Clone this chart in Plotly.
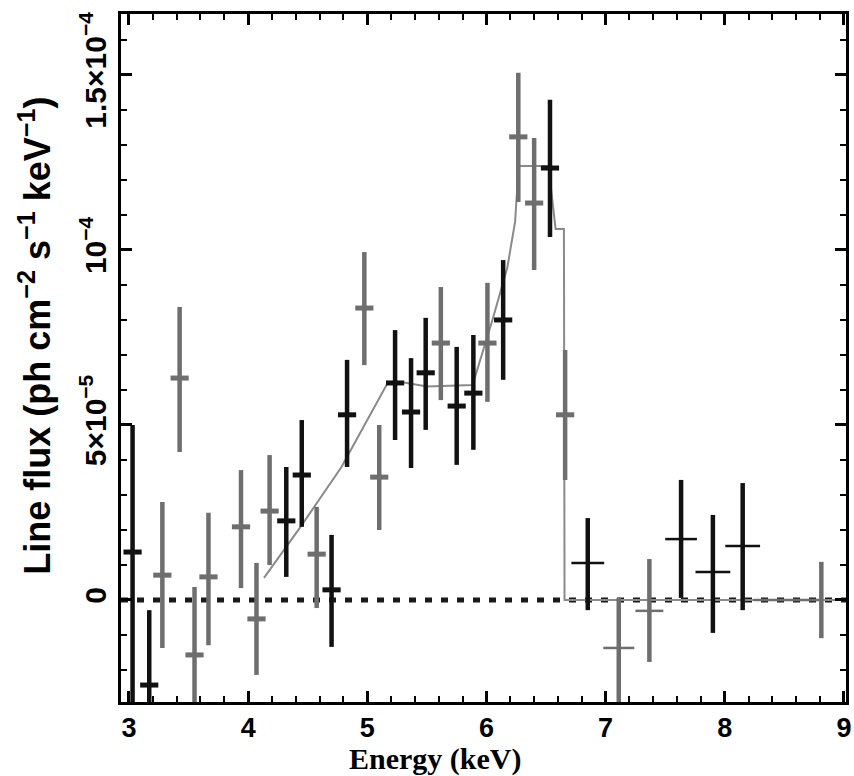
import plotly.graph_objects as go

# ---- data (flux in units of 1e-5 ph cm^-2 s^-1 keV^-1) ----
energy = [3.03, 3.17, 3.28, 3.425, 3.55, 3.667, 3.94, 4.07, 4.18, 4.32, 4.45,
          4.575, 4.70, 4.83, 4.975, 5.10, 5.233, 5.367, 5.49, 5.617, 5.75, 5.89,
          6.008, 6.14, 6.267, 6.40, 6.533, 6.66,
          6.85, 7.11, 7.367, 7.633, 7.90, 8.15, 8.81]
flux_e5 = [1.37, -2.43, 0.71, 6.34, -1.57, 0.66, 2.09, -0.54, 2.54, 2.26, 3.57,
           1.31, 0.29, 5.29, 8.34, 3.51, 6.20, 5.37, 6.49, 7.34, 5.54, 5.91,
           7.34, 8.00, 13.23, 11.34, 12.34, 5.29,
           1.06, -1.37, -0.31, 1.74, 0.80, 1.54, 0.00]
err_up_e5 = [3.63, 2.14, 2.09, 2.03, 1.94, 1.83, 1.62, 1.60, 1.60, 1.54, 1.57,
             1.35, 1.57, 1.57, 1.60, 1.49, 1.51, 1.54, 1.57, 1.60, 1.69, 1.66,
             1.72, 1.71, 1.83, 1.86, 1.95, 1.85,
             1.28, 1.43, 1.48, 1.69, 1.63, 1.80, 1.09]
err_dn_e5 = [6.50, 1.00, 2.08, 2.11, 2.00, 1.95, 1.75, 1.60, 1.54, 1.60, 1.48,
             1.54, 1.63, 1.49, 1.63, 1.51, 1.63, 1.60, 1.63, 1.63, 1.68, 1.62,
             1.68, 1.71, 1.86, 1.91, 1.97, 1.86,
             1.35, 2.00, 1.46, 1.68, 1.74, 1.83, 1.09]
bin_hi = [0]*28 + [0.1375, 0.13, 0.117, 0.133, 0.146, 0.146, 0.0]
bin_lo = [0]*28 + [0.1375, 0.13, 0.117, 0.133, 0.146, 0.146, 0.57]

# model line
model_energy = [4.133, 4.45, 4.783, 5.175, 5.283, 5.50, 5.883, 6.05, 6.175,
                6.24, 6.27, 6.52, 6.58, 6.65, 6.655, 9.0]
model_e5 = [0.63, 2.14, 3.80, 6.23, 6.23, 6.10, 6.14, 8.0, 9.5,
            10.8, 12.4, 12.4, 10.6, 10.6, 0.0, 0.0]

x_ticks = [3, 4, 5, 6, 7, 8, 9]
y_ticks = [0, 5e-5, 1e-4, 1.5e-4]
y_tick_text = ["0", "5×10<sup>−5</sup>", "10<sup>−4</sup>", "1.5×10<sup>−4</sup>"]

# style groups (indices of lighter/grey points; points >= 28 are binned with x-errors)
grey_idx = {2, 3, 4, 5, 6, 7, 8, 11, 14, 15, 19, 22, 24, 25, 27, 29, 30, 34}
n_marker = 28

S = 1e-5
flux = [v * S for v in flux_e5]
eu = [v * S for v in err_up_e5]
ed = [v * S for v in err_dn_e5]
model = [v * S for v in model_e5]

fig = go.Figure()

# zero dashed line
fig.add_shape(type="line", xref="paper", x0=0, x1=1, yref="y", y0=0, y1=0,
              line=dict(color="#1a1a1a", width=5, dash="7px,9px"), layer="below")

# model
fig.add_trace(go.Scatter(x=model_energy, y=model, mode="lines",
                         line=dict(color="#8a8a8a", width=2), hoverinfo="skip",
                         showlegend=False))


def add_group(idx, color, with_marker):
    xs = [energy[i] for i in idx]
    ys = [flux[i] for i in idx]
    fig.add_trace(go.Scatter(
        x=xs, y=ys, mode="markers",
        marker=dict(symbol="line-ew", size=13 if with_marker else 1,
                    color=color, line=dict(color=color, width=5 if with_marker else 0)),
        error_y=dict(type="data", symmetric=False,
                     array=[eu[i] for i in idx], arrayminus=[ed[i] for i in idx],
                     color=color, thickness=4.5, width=0),
        error_x=dict(type="data", symmetric=False,
                     array=[bin_hi[i] for i in idx], arrayminus=[bin_lo[i] for i in idx],
                     color=color, thickness=2.5, width=0),
        showlegend=False))


dark = "#111111"
grey = "#6e6e6e"
n = len(energy)
add_group([i for i in range(n_marker) if i not in grey_idx], dark, True)
add_group([i for i in range(n_marker) if i in grey_idx], grey, True)
add_group([i for i in range(n_marker, n) if i not in grey_idx], dark, False)
add_group([i for i in range(n_marker, n) if i in grey_idx], grey, False)

xtickfont = dict(family="Liberation Sans, Arial, sans-serif", size=27, color="black", weight=700)
ytickfont = dict(family="Liberation Sans, Arial, sans-serif", size=30, color="black", weight=700)

fig.update_xaxes(range=[2.933, 9.017], tickvals=x_ticks, ticklabeloverflow="allow",
                 ticks="inside", ticklen=11, tickwidth=2.5, tickcolor="black",
                 minor=dict(dtick=0.2, tick0=3, ticks="inside", ticklen=6, tickwidth=2, tickcolor="black"),
                 showline=True, linewidth=3, linecolor="black", mirror="allticks",
                 showgrid=False, zeroline=False, tickfont=xtickfont)
fig.update_yaxes(range=[-2.914e-5, 1.674e-4],
                 tickvals=y_ticks, ticktext=y_tick_text,
                 tickangle=-90,
                 ticks="inside", ticklen=11, tickwidth=2.5, tickcolor="black",
                 minor=dict(dtick=1e-5, tick0=0, ticks="inside", ticklen=6, tickwidth=2, tickcolor="black"),
                 showline=True, linewidth=3, linecolor="black", mirror="allticks",
                 showgrid=False, zeroline=False, tickfont=ytickfont)

fig.add_annotation(text="Energy (keV)", xref="paper", yref="paper", x=0.433, y=-0.0835,
                   xanchor="center", yanchor="middle", showarrow=False,
                   font=dict(family="Liberation Serif, Times New Roman, serif", size=30,
                             color="black", weight=700))
fig.add_annotation(text="Line flux (ph cm<sup>−2</sup> s<sup>−1</sup> keV<sup>−1</sup>)",
                   xref="paper", yref="paper", x=-0.118, y=0.533, textangle=-90,
                   xanchor="center", yanchor="middle", showarrow=False,
                   font=dict(family="Liberation Sans, Arial, sans-serif", size=36,
                             color="black", weight=700))

fig.update_layout(width=854, height=776, margin=dict(l=121, r=3, t=14, b=74),
                  plot_bgcolor="white", paper_bgcolor="white")

fig.write_html("out.html")
